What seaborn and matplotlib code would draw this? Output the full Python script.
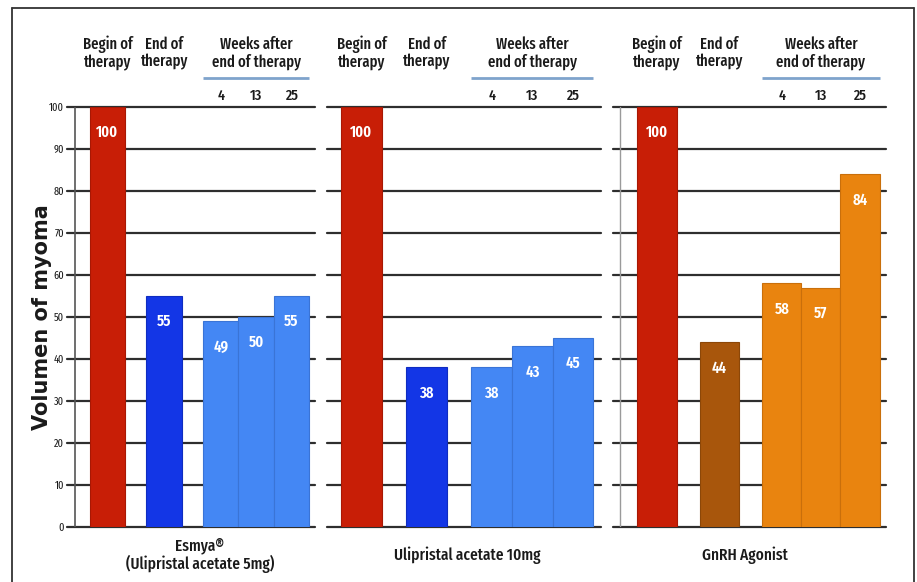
import matplotlib
matplotlib.use("Agg")
import matplotlib.pyplot as plt
from matplotlib.lines import Line2D
import seaborn as sns
import pandas as pd

# ---- data -------------------------------------------------------------
phases = ["begin", "end", "w4", "w13", "w25"]
week_labels = ["4", "13", "25"]
treatments = ["Esmya®\n(Ulipristal acetate 5mg)",
              "Ulipristal acetate 10mg",
              "GnRH Agonist"]
esmya_5mg = [100, 55, 49, 50, 55]
upa_10mg = [100, 38, 38, 43, 45]
gnrh_agonist = [100, 44, 58, 57, 84]
y_ticks = [0, 10, 20, 30, 40, 50, 60, 70, 80, 90, 100]

# ---- styling ----------------------------------------------------------
RED = "#c81e06"
DARK_BLUE = "#1336e6"
LIGHT_BLUE = "#4487f4"
BROWN = "#a8560c"
ORANGE = "#e9840f"
panel_colors = [
    [RED, DARK_BLUE, LIGHT_BLUE, LIGHT_BLUE, LIGHT_BLUE],
    [RED, DARK_BLUE, LIGHT_BLUE, LIGHT_BLUE, LIGHT_BLUE],
    [RED, BROWN, ORANGE, ORANGE, ORANGE],
]
edge_colors = [
    ["#a81804", "#0f2cc0", "#3a74d6", "#3a74d6", "#3a74d6"],
    ["#a81804", "#0f2cc0", "#3a74d6", "#3a74d6", "#3a74d6"],
    ["#a81804", "#8c4708", "#c96f0b", "#c96f0b", "#c96f0b"],
]
# bar slots, in bar widths: two single bars, then three adjacent ones
slots = [0.0, 1.6, 3.2, 4.2, 5.2]

W, H = 917, 582
sns.set_style("white")
NARROW = ["Fira Sans Extra Condensed", "Roboto Condensed", "Liberation Sans", "DejaVu Sans"]
plt.rcParams["font.family"] = NARROW

fig = plt.figure(figsize=(W / 100, H / 100), dpi=100)

# pixel layout of each panel: centre of first bar, centre of last bar,
# gridline start, gridline end, centre of caption
layout = [
    (107.5, 291.5, 67, 315, 200),
    (361.5, 573.0, 327, 601, 467),
    (657.0, 860.0, 613, 886, 745),
]
Y0_PX, Y100_PX = 527, 107
TEXT = "#1a1a1a"

values_by_panel = [esmya_5mg, upa_10mg, gnrh_agonist]

for i, (vals, (c_first, c_last, g_left, g_right, cap_x)) in enumerate(zip(values_by_panel, layout)):
    unit = (c_last - c_first) / (slots[-1] - slots[0])
    ax = fig.add_axes([g_left / W, (H - Y0_PX) / H,
                       (g_right - g_left) / W, (Y0_PX - Y100_PX) / H])
    df = pd.DataFrame({"slot": slots, "value": vals, "phase": phases})
    sns.barplot(data=df, x="slot", y="value", hue="phase",
                palette=dict(zip(phases, panel_colors[i])),
                native_scale=True, width=1.0, legend=False,
                saturation=1.0, ax=ax, zorder=2)
    for patch, ec in zip(ax.patches, edge_colors[i]):
        patch.set_edgecolor(ec)
        patch.set_linewidth(0.8)

    ax.set_xlim((g_left - c_first) / unit, (g_right - c_first) / unit)
    ax.set_ylim(0, 100)
    for t in y_ticks:
        ax.axhline(t, color="#2e2e2e", lw=1.6, zorder=0.5, clip_on=False)
    for s in ax.spines.values():
        s.set_visible(False)
    ax.set_xticks([])
    ax.set_xlabel("")
    ax.set_ylabel("")
    if i == 0:
        ax.set_yticks(y_ticks)
        ax.set_yticklabels([str(t) for t in y_ticks])
        ax.tick_params(axis="y", length=0, pad=2, labelsize=8, labelcolor=TEXT)
        ax.axvline((75 - c_first) / unit, color="#555555", lw=1.2, zorder=1)
    else:
        ax.set_yticks([])
        if i == 2:
            ax.axvline((620 - c_first) / unit, color="#9a9a9a", lw=1.0, zorder=1)

    # value labels inside the bars
    for s, v in zip(slots, vals):
        ax.annotate(str(v), xy=(s, v), xytext=(0, -18.5), textcoords="offset points",
                    ha="center", va="center", color="white", fontsize=11.5,
                    fontweight="semibold", zorder=3)

    # column headers
    tr = ax.get_xaxis_transform()
    frac = lambda py: (Y0_PX - py) / (Y0_PX - Y100_PX)
    head = dict(transform=tr, ha="center", va="center", fontsize=11.5,
                fontweight="medium", color=TEXT, clip_on=False, linespacing=1.1)
    ax.text(slots[0], frac(53), "Begin of\ntherapy", **head)
    ax.text(slots[1], frac(53), "End of\ntherapy", **head)
    ax.text(slots[3], frac(53), "Weeks after\nend of therapy", **head)
    ax.plot([slots[2] - 0.5, slots[4] + 0.5], [frac(78), frac(78)], transform=tr,
            color="#7fa3cc", lw=2.0, clip_on=False, solid_capstyle="butt")
    for s, wk in zip(slots[2:], week_labels):
        ax.text(s, frac(96), wk, transform=tr, ha="center", va="center",
                fontsize=11, fontweight="medium", color=TEXT, clip_on=False)

    # treatment caption
    fig.text(cap_x / W, 1 - 555 / H, treatments[i], ha="center", va="center",
             fontsize=12, fontweight="medium", color=TEXT, linespacing=1.1)

fig.text(42 / W, 1 - 317 / H, "Volumen of myoma", rotation=90, ha="center",
         va="center", fontsize=15, fontweight="bold", color=TEXT,
         family="DejaVu Sans")

# outer frame
frame = dict(color="#333333", lw=1.3, transform=fig.transFigure)
fig.add_artist(Line2D([12 / W, 12 / W], [0, 1 - 8 / H], **frame))
fig.add_artist(Line2D([12 / W, 914 / W], [1 - 8 / H, 1 - 8 / H], **frame))
fig.add_artist(Line2D([914 / W, 914 / W], [0, 1 - 8 / H], **frame))

fig.savefig("out.png", dpi=100)
